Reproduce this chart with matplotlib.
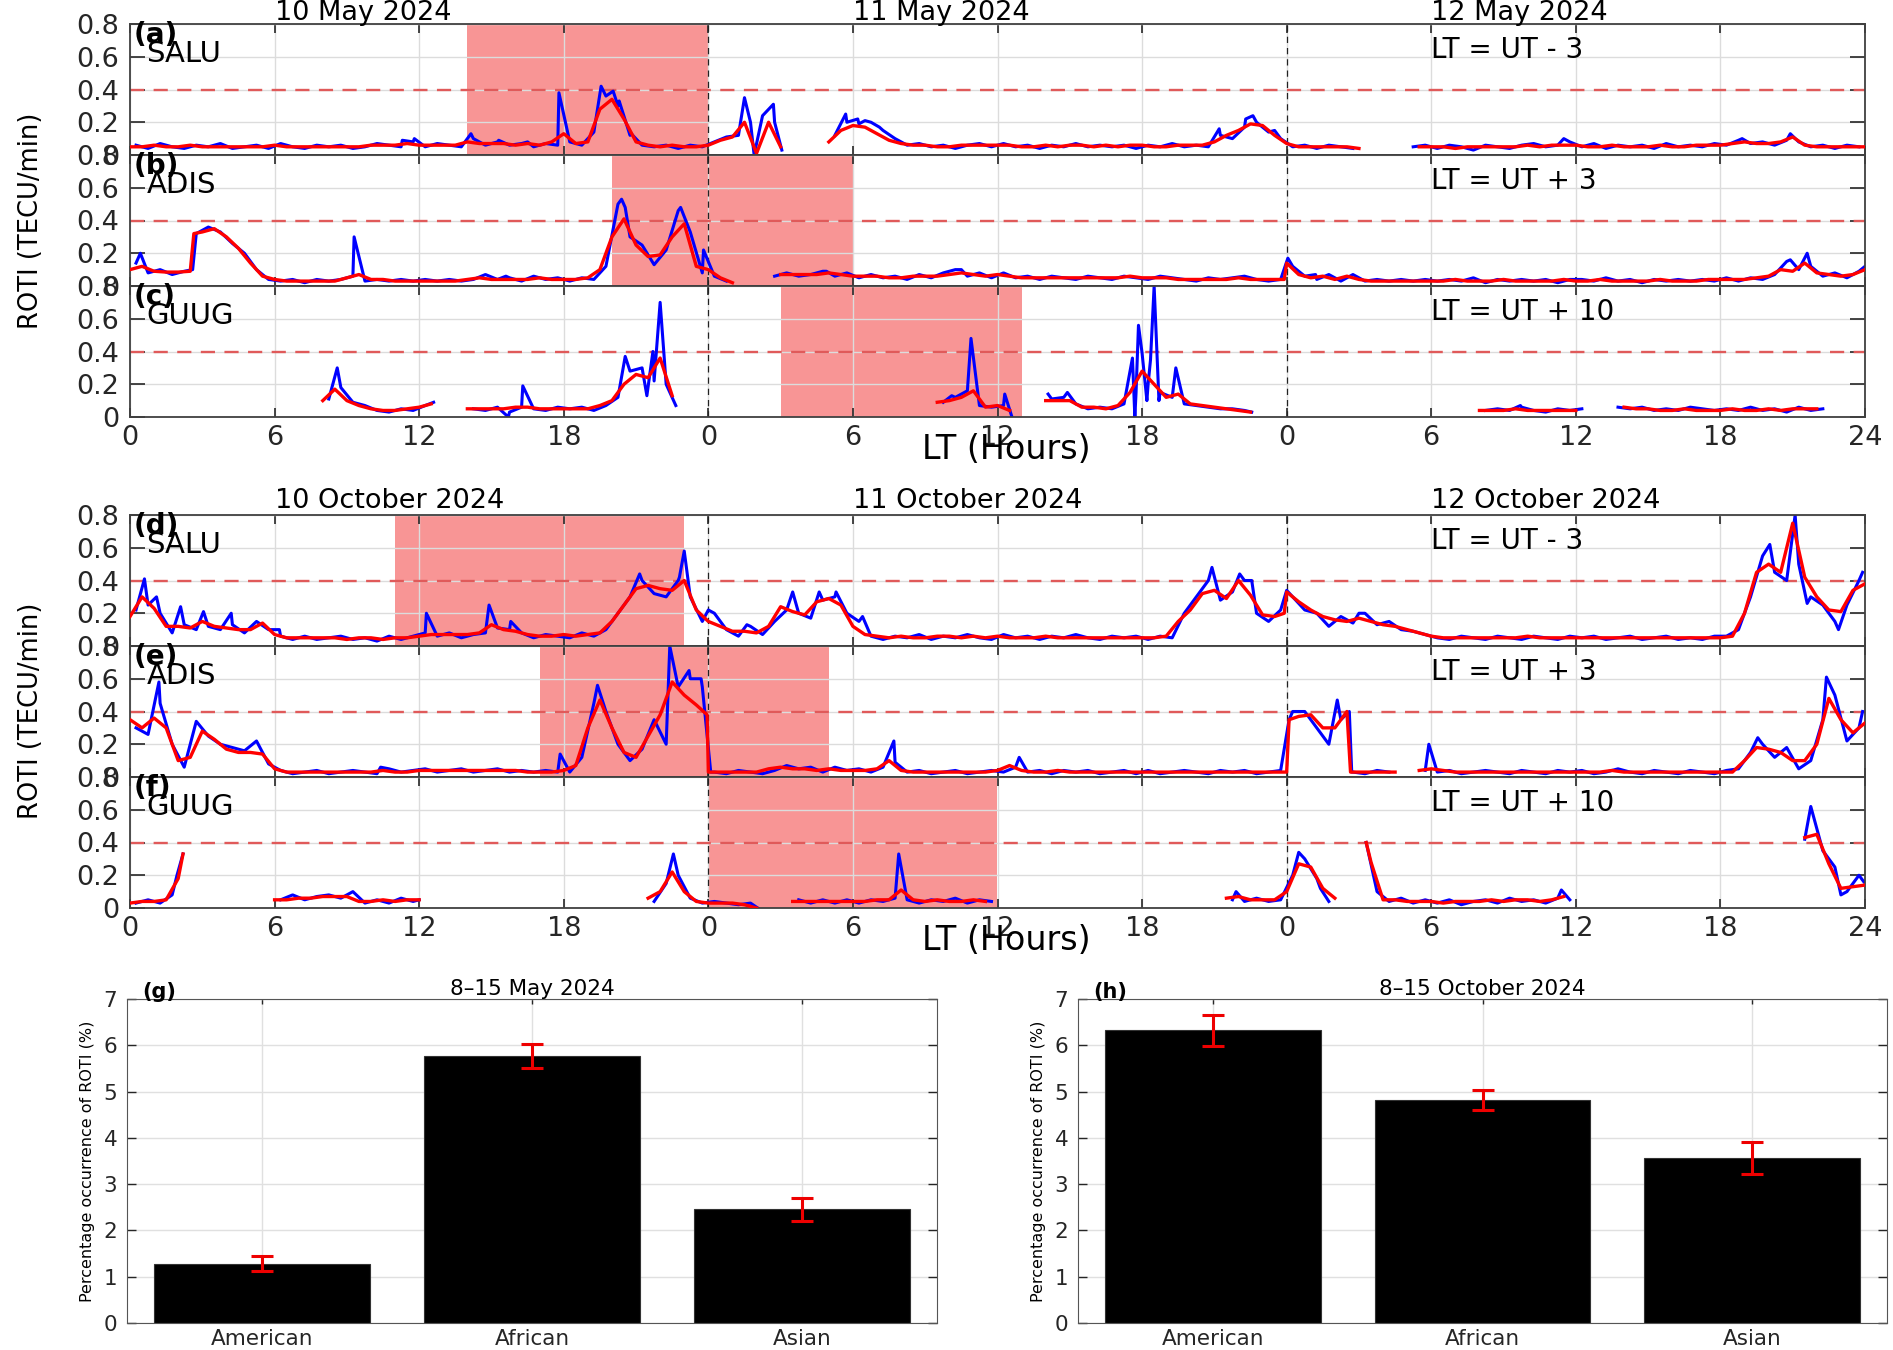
import numpy as np
import matplotlib
matplotlib.use("Agg")
import matplotlib.pyplot as plt

nan = np.nan

# ROTI, red = smoothed (every 0.5 h from 0 to 72), blue = raw (every 0.5 h from 0.25),
# plus raw peaks read separately. one row = 6 hours
may_salu_red = [
    .05, .05, .06, .05, .05, .06, .05, .05, .05, .05, .05, .05,
    .06, .05, .05, .05, .05, .05, .05, .05, .06, .06, .06, .07,
    .06, .06, .06, .06, .08, .07, .07, .07, .06, .07, .06, .08,
    .13, .07, .08, .28, .34, .22, .08, .06, .05, .06, .05, .05,
    .06, .09, .11, .20, .01, .20, .05, nan, nan, nan, .08, .15,
    .18, .17, .13, .09, .07, .06, .06, .05, .05, .06, .06, .06,
    .06, .06, .05, .05, .06, .05, .06, .06, .05, .06, .05, .06,
    .06, .05, .05, .06, .06, .06, .08, .12, .15, .19, .18, .12,
    .07, .05, .05, .05, .05, .05, .04, nan, nan, nan, nan, .05,
    .05, .05, .04, .05, .05, .05, .05, .05, .06, .05, .06, .06,
    .06, .05, .05, .06, .05, .05, .05, .06, .05, .05, .06, .06,
    .06, .07, .08, .07, .07, .08, .11, .06, .05, .05, .05, .05,
    .05]
may_salu_blue = [
    .06, .04, .07, .05, .04, .06, .05, .07, .04, .05, .06, .04,
    .07, .05, .04, .06, .05, .06, .04, .05, .07, .06, .05, .08,
    .05, .07, .06, .05, .10, .06, .08, .06, .07, .05, .07, .06,
    .08, .06, .14, .36, .30, .12, .06, .05, .06, .04, .06, .05,
    .08, .11, .12, .20, .24, .20, nan, nan, nan, nan, .12, .20,
    .19, .20, .15, .10, .06, .07, .05, .06, .04, .06, .07, .05,
    .07, .05, .06, .04, .06, .05, .07, .05, .06, .05, .06, .04,
    .06, .05, .07, .05, .06, .05, .12, .10, .17, .20, .14, .10,
    .05, .06, .04, .06, .05, .04, nan, nan, nan, nan, .05, .06,
    .04, .06, .05, .03, .06, .05, .04, .06, .07, .05, .06, .08,
    .05, .07, .04, .06, .05, .06, .04, .07, .05, .06, .05, .07,
    .06, .09, .07, .08, .06, .09, .08, .05, .06, .04, .06, .05]
may_salu_peaks = [(11.3, .09), (11.8, .10), (14.15, .13), (15.3, .09), (16.5, .08),
                  (17.8, .38), (19.55, .42), (20.05, .39), (20.3, .33), (20.8, .13),
                  (25.5, .35), (25.9, .0), (26.7, .31), (27.05, .03), (29.7, .25),
                  (30.2, .22), (30.5, .21), (31.1, .17), (45.2, .16), (46.3, .22),
                  (46.6, .24), (47.5, .15), (59.5, .10), (66.9, .10), (68.9, .13)]
may_salu_red_x = []

may_adis_red = [
    .10, .12, .09, .085, .085, .09, .33, .35, .30, .23, .14, .06,
    .04, .03, .03, .03, .03, .03, .05, .07, .04, .04, .03, .03,
    .03, .03, .03, .03, .04, .05, .04, .04, .04, .04, .05, .04,
    .04, .04, .05, .10, .30, .41, .25, .18, .19, .30, .38, .12,
    .10, .05, .02, nan, nan, nan, .07, .07, .07, .07, .08, .07,
    .06, .06, .06, .05, .05, .06, .06, .06, .07, .08, .07, .06,
    .07, .06, .05, .05, .05, .05, .05, .05, .05, .05, .05, .06,
    .05, .05, .05, .04, .04, .04, .04, .04, .05, .04, .04, .04,
    .14, .07, .05, .06, .04, .06, .04, .03, .03, .03, .03, .03,
    .03, .03, .04, .03, .03, .03, .04, .03, .03, .03, .03, .04,
    .03, .03, .04, .03, .03, .03, .03, .04, .03, .03, .03, .04,
    .04, .04, .04, .05, .06, .10, .09, .14, .08, .07, .06, .07,
    .10]
may_adis_blue = [
    .14, .08, .10, .07, .09, .32, .36, .33, .26, .20, .10, .04,
    .03, .04, .02, .04, .03, .04, .06, .03, .04, .03, .04, .03,
    .04, .03, .04, .03, .04, .07, .04, .05, .03, .06, .04, .05,
    .03, .05, .04, .12, .50, .30, .25, .13, .22, .46, .33, .08,
    .06, .03, nan, nan, nan, .06, .08, .06, .07, .09, .06, .08,
    .05, .07, .05, .06, .04, .07, .05, .08, .10, .06, .08, .05,
    .08, .05, .06, .04, .06, .05, .04, .06, .05, .04, .06, .05,
    .04, .06, .05, .04, .03, .05, .04, .05, .06, .04, .03, .04,
    .12, .06, .04, .07, .03, .07, .03, .04, .03, .04, .03, .04,
    .03, .04, .03, .05, .02, .04, .03, .04, .03, .04, .02, .04,
    .04, .03, .05, .03, .04, .02, .04, .03, .04, .03, .04, .03,
    .05, .03, .05, .04, .07, .15, .10, .12, .06, .08, .05, .09]
may_adis_peaks = [(0.43, .20), (2.6, .10), (9.3, .30), (15.6, .06), (20.4, .53),
                  (20.55, .48), (22.85, .48), (23.8, .22), (28.9, .09), (34.5, .10),
                  (48.05, .17), (49.2, .07), (68.9, .16), (69.6, .20), (72.0, .12)]
may_adis_red_x = [(2.65, .32), (47.9, .04)]

may_guug_red = [
    nan, nan, nan, nan, nan, nan, nan, nan, nan, nan, nan, nan,
    nan, nan, nan, nan, .10, .17, .10, .07, .05, .04, .04, .05,
    .06, .08, nan, nan, .05, .05, .05, .05, .06, .06, .05, .05,
    .05, .05, .05, .07, .10, .20, .26, .24, .36, .13, nan, nan,
    nan, nan, nan, nan, nan, nan, nan, nan, nan, nan, nan, nan,
    nan, nan, nan, nan, nan, nan, nan, .09, .10, .12, .16, .06,
    .07, .04, nan, nan, .10, .10, .10, .06, .06, .05, .07, .15,
    .28, .20, .12, .14, .08, .07, .06, .05, .04, .03, nan, nan,
    nan, nan, nan, nan, nan, nan, nan, nan, nan, nan, nan, nan,
    nan, nan, nan, nan, .04, .04, .04, .05, .04, .04, .04, .04,
    .04, nan, nan, nan, .06, .05, .05, .04, .04, .05, .04, .04,
    .04, .05, .04, .04, .05, .04, .05, .05, .05, nan, nan, nan,
    nan]
may_guug_blue = [
    nan, nan, nan, nan, nan, nan, nan, nan, nan, nan, nan, nan,
    nan, nan, nan, nan, .11, .18, .09, .07, .04, .03, .05, .04,
    .07, nan, nan, nan, .05, .04, .06, .03, .06, .05, .04, .06,
    .05, .06, .04, .07, .12, .28, .30, .22, .20, nan, nan, nan,
    nan, nan, nan, nan, nan, nan, nan, nan, nan, nan, nan, nan,
    nan, nan, nan, nan, nan, nan, nan, .09, .12, .16, .07, .06,
    .07, nan, nan, nan, .11, .12, .08, .05, .06, .05, .08, .15,
    .20, .15, .12, .08, .07, .06, .05, .05, .04, nan, nan, nan,
    nan, nan, nan, nan, nan, nan, nan, nan, nan, nan, nan, nan,
    nan, nan, nan, nan, .04, .05, .04, .06, .04, .03, .05, .04,
    .05, nan, nan, .06, .05, .06, .04, .05, .04, .06, .05, .04,
    .05, .04, .06, .04, .05, .03, .06, .04, .05, nan, nan, nan]
may_guug_peaks = [(8.6, .30), (12.6, .09), (15.7, .0), (16.3, .19), (20.55, .37),
                  (21.45, .13), (21.7, .40), (22.0, .70), (22.65, .07), (34.1, .13),
                  (34.9, .48), (36.3, .14), (36.6, .0), (38.1, .14), (38.9, .15),
                  (41.6, .36), (41.7, .0), (41.85, .56), (42.0, .39), (42.2, .10),
                  (42.35, .35), (42.5, .80), (42.7, .10), (43.4, .30), (46.55, .03),
                  (57.7, .07)]
may_guug_red_x = []

oct_salu_red = [
    .18, .30, .23, .12, .12, .11, .15, .12, .11, .10, .10, .14,
    .07, .05, .05, .05, .05, .05, .04, .05, .05, .04, .05, .05,
    .06, .07, .07, .07, .07, .08, .13, .10, .09, .07, .06, .06,
    .07, .06, .07, .08, .15, .25, .35, .37, .35, .34, .40, .22,
    .15, .12, .09, .09, .08, .12, .24, .21, .19, .27, .29, .25,
    .12, .07, .06, .05, .06, .05, .05, .06, .06, .05, .06, .05,
    .06, .05, .05, .05, .06, .05, .05, .05, .05, .05, .05, .05,
    .05, .05, .06, .15, .22, .32, .34, .29, .40, .31, .19, .18,
    .33, .27, .22, .18, .16, .15, .17, .15, .13, .12, .10, .08,
    .06, .05, .05, .05, .05, .05, .05, .05, .06, .05, .05, .05,
    .05, .05, .05, .05, .05, .05, .05, .05, .05, .05, .05, .05,
    .05, .06, .20, .45, .50, .45, .75, .42, .30, .22, .21, .34,
    .38]
oct_salu_blue = [
    .22, .25, .20, .08, .13, .10, .12, .10, .13, .08, .15, .10,
    .06, .04, .06, .04, .05, .06, .04, .05, .03, .06, .04, .06,
    .08, .06, .08, .05, .07, .08, .11, .10, .08, .05, .07, .06,
    .05, .08, .06, .10, .20, .30, .40, .32, .30, .40, .30, .15,
    .20, .10, .06, .12, .07, .15, .22, .20, .17, .28, .30, .20,
    .15, .06, .04, .06, .05, .07, .04, .06, .05, .07, .05, .04,
    .07, .05, .06, .04, .06, .05, .07, .05, .04, .06, .05, .06,
    .04, .06, .05, .20, .30, .40, .28, .33, .40, .20, .15, .22,
    .30, .22, .20, .12, .18, .14, .20, .13, .15, .10, .09, .07,
    .05, .04, .06, .05, .04, .06, .05, .04, .06, .05, .04, .06,
    .05, .06, .04, .05, .06, .04, .05, .06, .04, .05, .04, .06,
    .06, .10, .30, .55, .45, .40, .50, .30, .25, .15, .25, .40]
oct_salu_peaks = [(0.6, .41), (1.1, .30), (2.1, .24), (3.05, .21), (4.2, .20), (6.2, .10),
                  (12.3, .20), (14.9, .25), (15.8, .15), (21.15, .44), (22.8, .42),
                  (23.0, .58), (24.0, .22), (25.6, .13), (27.5, .33), (28.6, .33),
                  (29.3, .33), (30.4, .18), (44.9, .48), (46.05, .44), (46.55, .40),
                  (48.0, .34), (51.0, .20), (68.05, .62), (69.1, .80), (69.6, .26),
                  (70.9, .10), (71.9, .45)]
oct_salu_red_x = [(47.9, .20)]

oct_adis_red = [
    .35, .30, .36, .30, .10, .12, .28, .23, .17, .15, .15, .14,
    .05, .03, .03, .03, .03, .03, .03, .03, .03, .04, .03, .03,
    .04, .04, .04, .04, .04, .04, .04, .04, .04, .03, .03, .03,
    .04, .07, .30, .47, .30, .15, .12, .25, .38, .58, .50, .44,
    .03, .03, .03, .03, .03, .05, .06, .05, .05, .04, .05, .04,
    .04, .04, .05, .10, .04, .03, .03, .03, .03, .03, .03, .03,
    .04, .07, .04, .03, .03, .04, .03, .03, .03, .03, .03, .03,
    .03, .03, .03, .03, .03, .03, .03, .03, .03, .03, .03, .03,
    .03, .37, .38, .30, .30, .40, .03, .03, .03, .03, nan, .04,
    .05, .04, .03, .03, .03, .03, .03, .03, .03, .03, .03, .03,
    .03, .03, .03, .04, .03, .03, .03, .03, .03, .03, .03, .03,
    .03, .03, .10, .18, .17, .15, .10, .10, .20, .48, .35, .27,
    .33]
oct_adis_blue = [
    .30, .26, .45, .20, .06, .34, .25, .20, .18, .16, .22, .08,
    .04, .02, .03, .04, .02, .03, .04, .03, .02, .05, .03, .04,
    .05, .03, .04, .05, .03, .04, .05, .03, .04, .03, .04, .03,
    .03, .12, .45, .40, .20, .10, .17, .35, .20, .55, .60, .55,
    .03, .02, .04, .03, .02, .04, .07, .05, .06, .03, .06, .04,
    .05, .03, .06, .09, .03, .04, .02, .03, .04, .02, .03, .04,
    .03, .06, .03, .04, .02, .04, .03, .04, .02, .03, .04, .02,
    .04, .02, .03, .04, .03, .02, .04, .03, .04, .02, .03, .04,
    .40, .40, .30, .20, .35, .03, .02, .04, .03, nan, nan, .04,
    .03, .04, .02, .03, .04, .03, .02, .04, .03, .02, .04, .03,
    .04, .02, .03, .05, .03, .02, .04, .03, .02, .04, .03, .02,
    .04, .05, .15, .20, .12, .18, .05, .10, .35, .50, .22, .30]
oct_adis_peaks = [(1.2, .58), (10.4, .06), (17.85, .14), (19.4, .56), (22.4, .80),
                  (23.2, .65), (23.7, .60), (24.1, .03), (31.7, .22), (36.9, .12),
                  (48.1, .35), (50.1, .47), (50.6, .40), (50.7, .03), (53.9, .20),
                  (67.55, .24), (70.4, .61), (71.9, .40)]
oct_adis_red_x = [(23.95, .38), (48.1, .35), (50.65, .03)]

oct_guug_red = [
    .03, .04, .04, .05, .18, nan, nan, nan, nan, nan, nan, nan,
    .05, .05, .06, .06, .07, .07, .07, .04, .04, .05, .04, .05,
    .05, nan, nan, nan, nan, nan, nan, nan, nan, nan, nan, nan,
    nan, nan, nan, nan, nan, nan, nan, .06, .10, .22, .10, .04,
    .03, .03, .03, .02, .00, nan, nan, .04, .04, .04, .04, .04,
    .04, .04, .05, .05, .11, .05, .04, .05, .04, .04, .05, .04,
    nan, nan, nan, nan, nan, nan, nan, nan, nan, nan, nan, nan,
    nan, nan, nan, nan, nan, nan, nan, .06, .07, .05, .05, .05,
    .10, .27, .25, .12, .06, nan, nan, .28, .05, .05, .04, .04,
    .04, .03, .04, .04, .04, .05, .04, .05, .05, .04, .05, .07,
    nan, nan, nan, nan, nan, nan, nan, nan, nan, nan, nan, nan,
    nan, nan, nan, nan, nan, nan, nan, .43, .45, .27, .12, .13,
    .14]
oct_guug_blue = [
    .03, .05, .03, .08, nan, nan, nan, nan, nan, nan, nan, nan,
    .05, .08, .05, .07, .08, .06, .10, .03, .05, .03, .06, .04,
    nan, nan, nan, nan, nan, nan, nan, nan, nan, nan, nan, nan,
    nan, nan, nan, nan, nan, nan, nan, .04, .15, .20, .06, .03,
    .04, .03, .02, .03, nan, nan, nan, .05, .03, .05, .03, .05,
    .03, .05, .04, .06, .05, .03, .05, .04, .06, .03, .05, .04,
    nan, nan, nan, nan, nan, nan, nan, nan, nan, nan, nan, nan,
    nan, nan, nan, nan, nan, nan, nan, .05, .04, .06, .04, .05,
    .20, .30, .18, .04, nan, nan, nan, .10, .04, .06, .03, .05,
    .03, .05, .02, .04, .05, .03, .06, .04, .05, .03, .06, .05,
    nan, nan, nan, nan, nan, nan, nan, nan, nan, nan, nan, nan,
    nan, nan, nan, nan, nan, nan, nan, .62, .35, .25, .10, .20]
oct_guug_peaks = [(1.95, .20), (2.2, .33), (12.0, .05), (22.55, .33), (26.05, .0),
                  (31.9, .33), (45.9, .10), (48.5, .34), (49.4, .12), (51.3, .40),
                  (59.4, .11), (69.5, .42), (71.0, .08), (71.95, .16)]
oct_guug_red_x = [(2.2, .33), (51.3, .40)]

# storm-time shading (hours from start of first day)
may_shade = [(14, 24), (20, 30), (27, 37)]
oct_shade = [(11, 23), (17, 29), (24, 36)]

stations = ["SALU", "ADIS", "GUUG"]
lt_notes = ["LT = UT - 3", "LT = UT + 3", "LT = UT + 10"]
may_days = ["10 May 2024", "11 May 2024", "12 May 2024"]
oct_days = ["10 October 2024", "11 October 2024", "12 October 2024"]
hour_labels = ["0", "6", "12", "18", "0", "6", "12", "18", "0", "6", "12", "18", "24"]

regions = ["American", "African", "Asian"]
may_occ = [1.28, 5.76, 2.46]
may_err = [0.16, 0.26, 0.25]
oct_occ = [6.32, 4.82, 3.56]
oct_err = [0.33, 0.22, 0.34]

t_red = np.arange(145) * 0.5
t_blue = 0.25 + np.arange(144) * 0.5


def merge(t, v, extra):
    tt = np.concatenate([t, [p[0] for p in extra]])
    vv = np.concatenate([np.asarray(v, float), [p[1] for p in extra]])
    o = np.argsort(tt, kind="stable")
    return tt[o], vv[o]


def ts_panel(ax, red, red_x, blue, peaks, shade, letter, station, note, bottom):
    ax.axvspan(shade[0], shade[1], color="#f89595", lw=0, zorder=1)
    ax.axhline(0.4, color="#e05a5a", ls=(0, (6, 4)), lw=1.7, zorder=1.7)
    for d in (24, 48):
        ax.axvline(d, color="#222222", ls=(0, (5, 4)), lw=0.9, zorder=1.8)
    tb, vb = merge(t_blue, blue, peaks)
    ax.plot(tb, vb, color="#0000ff", lw=2.2, zorder=2)
    tr, vr = merge(t_red, red, red_x)
    ax.plot(tr, vr, color="#ff0000", lw=2.4, zorder=3)

    ax.set_xlim(0, 72)
    ax.set_ylim(0, 0.8)
    ax.set_xticks(np.arange(0, 73, 6))
    ax.set_xticklabels(hour_labels)
    ax.set_yticks([0, 0.2, 0.4, 0.6, 0.8])
    ax.set_yticklabels(["0", "0.2", "0.4", "0.6", "0.8"])
    ax.tick_params(direction="in", top=True, right=True, colors="#262626",
                   width=1.2, labelsize=19.5, labelbottom=bottom)
    ax.tick_params(axis="x", length=6.5, pad=6)
    ax.tick_params(axis="y", length=11, pad=8)
    ax.grid(True, color="#dcdcdc", lw=1.0)
    for s in ax.spines.values():
        s.set_color("#404040")
        s.set_linewidth(1.3)

    ax.text(0.002, 0.915, letter, transform=ax.transAxes, fontsize=20,
            fontweight="bold", va="center", ha="left", zorder=5)
    ax.text(0.0095, 0.77, station, transform=ax.transAxes, fontsize=21,
            va="center", ha="left", zorder=5)
    ax.text(0.75, 0.80, note, transform=ax.transAxes, fontsize=20,
            va="center", ha="left", zorder=5)
    if bottom:
        ax.set_xlabel("LT (Hours)", fontsize=24)
        ax.xaxis.set_label_coords(0.505, -0.25)
        ax.xaxis.label.set_va("center")


def bar_panel(ax, vals, errs, title, letter):
    x = np.arange(1, 4)
    ax.bar(x, vals, width=0.8, color="k", edgecolor="#333333", lw=0.8, zorder=2)
    ax.errorbar(x, vals, yerr=errs, fmt="none", ecolor="#ee0000", elinewidth=2.2,
                capsize=8, capthick=2.2, zorder=3)
    ax.set_xlim(0.5, 3.5)
    ax.set_ylim(0, 7)
    ax.set_xticks(x)
    ax.set_xticklabels(regions)
    ax.set_yticks(range(8))
    ax.tick_params(direction="in", top=True, right=True, labelsize=15.5,
                   colors="#262626", width=1.0)
    ax.tick_params(axis="y", length=6.5, pad=7)
    ax.tick_params(axis="x", length=3.5, pad=4)
    ax.grid(True, color="#e0e0e0", lw=1.0)
    for s in ax.spines.values():
        s.set_color("#555555")
    ax.set_title(title, fontsize=15.5, pad=3)
    ax.text(0.0185, 1.022, letter, transform=ax.transAxes, fontsize=15,
            fontweight="bold", va="center", ha="left")
    ax.set_ylabel("Percentage occurrence of ROTI (%)", fontsize=11.5)
    ax.yaxis.set_label_coords(-0.0395, 0.5)


fig = plt.figure(figsize=(18.93, 13.5), dpi=100)
W, H = 1893.0, 1350.0
left, width = 130 / W, 1735 / W


def block(tops, reds, red_xs, blues, peaks, shades, letters, days, day_y):
    axs = []
    for i in range(3):
        top = tops[i]
        ax = fig.add_axes([left, 1 - (top + 131) / H, width, 131 / H])
        ts_panel(ax, reds[i], red_xs[i], blues[i], peaks[i], shades[i],
                 letters[i], stations[i], lt_notes[i], i == 2)
        axs.append(ax)
    for k, d in enumerate(days):
        axs[0].text((6 + 24 * k) / 72, day_y, d, transform=axs[0].transAxes,
                    fontsize=19.5, ha="left", va="center")
    return axs


top_axes = block([24, 155, 286],
                 [may_salu_red, may_adis_red, may_guug_red],
                 [may_salu_red_x, may_adis_red_x, may_guug_red_x],
                 [may_salu_blue, may_adis_blue, may_guug_blue],
                 [may_salu_peaks, may_adis_peaks, may_guug_peaks],
                 may_shade, ["(a)", "(b)", "(c)"], may_days, 1.085)
mid_axes = block([515, 646, 777],
                 [oct_salu_red, oct_adis_red, oct_guug_red],
                 [oct_salu_red_x, oct_adis_red_x, oct_guug_red_x],
                 [oct_salu_blue, oct_adis_blue, oct_guug_blue],
                 [oct_salu_peaks, oct_adis_peaks, oct_guug_peaks],
                 oct_shade, ["(d)", "(e)", "(f)"], oct_days, 1.11)

fig.text(31 / W, 1 - 221 / H, "ROTI (TECU/min)", rotation=90, fontsize=18.5,
         ha="center", va="center")
fig.text(31 / W, 1 - 711 / H, "ROTI (TECU/min)", rotation=90, fontsize=18.5,
         ha="center", va="center")

ax_g = fig.add_axes([127 / W, 1 - 1323 / H, 810 / W, 324 / H])
bar_panel(ax_g, may_occ, may_err, "8\u201315 May 2024", "(g)")
ax_h = fig.add_axes([1078 / W, 1 - 1323 / H, 809 / W, 324 / H])
bar_panel(ax_h, oct_occ, oct_err, "8\u201315 October 2024", "(h)")

fig.savefig("out.png", dpi=100)
